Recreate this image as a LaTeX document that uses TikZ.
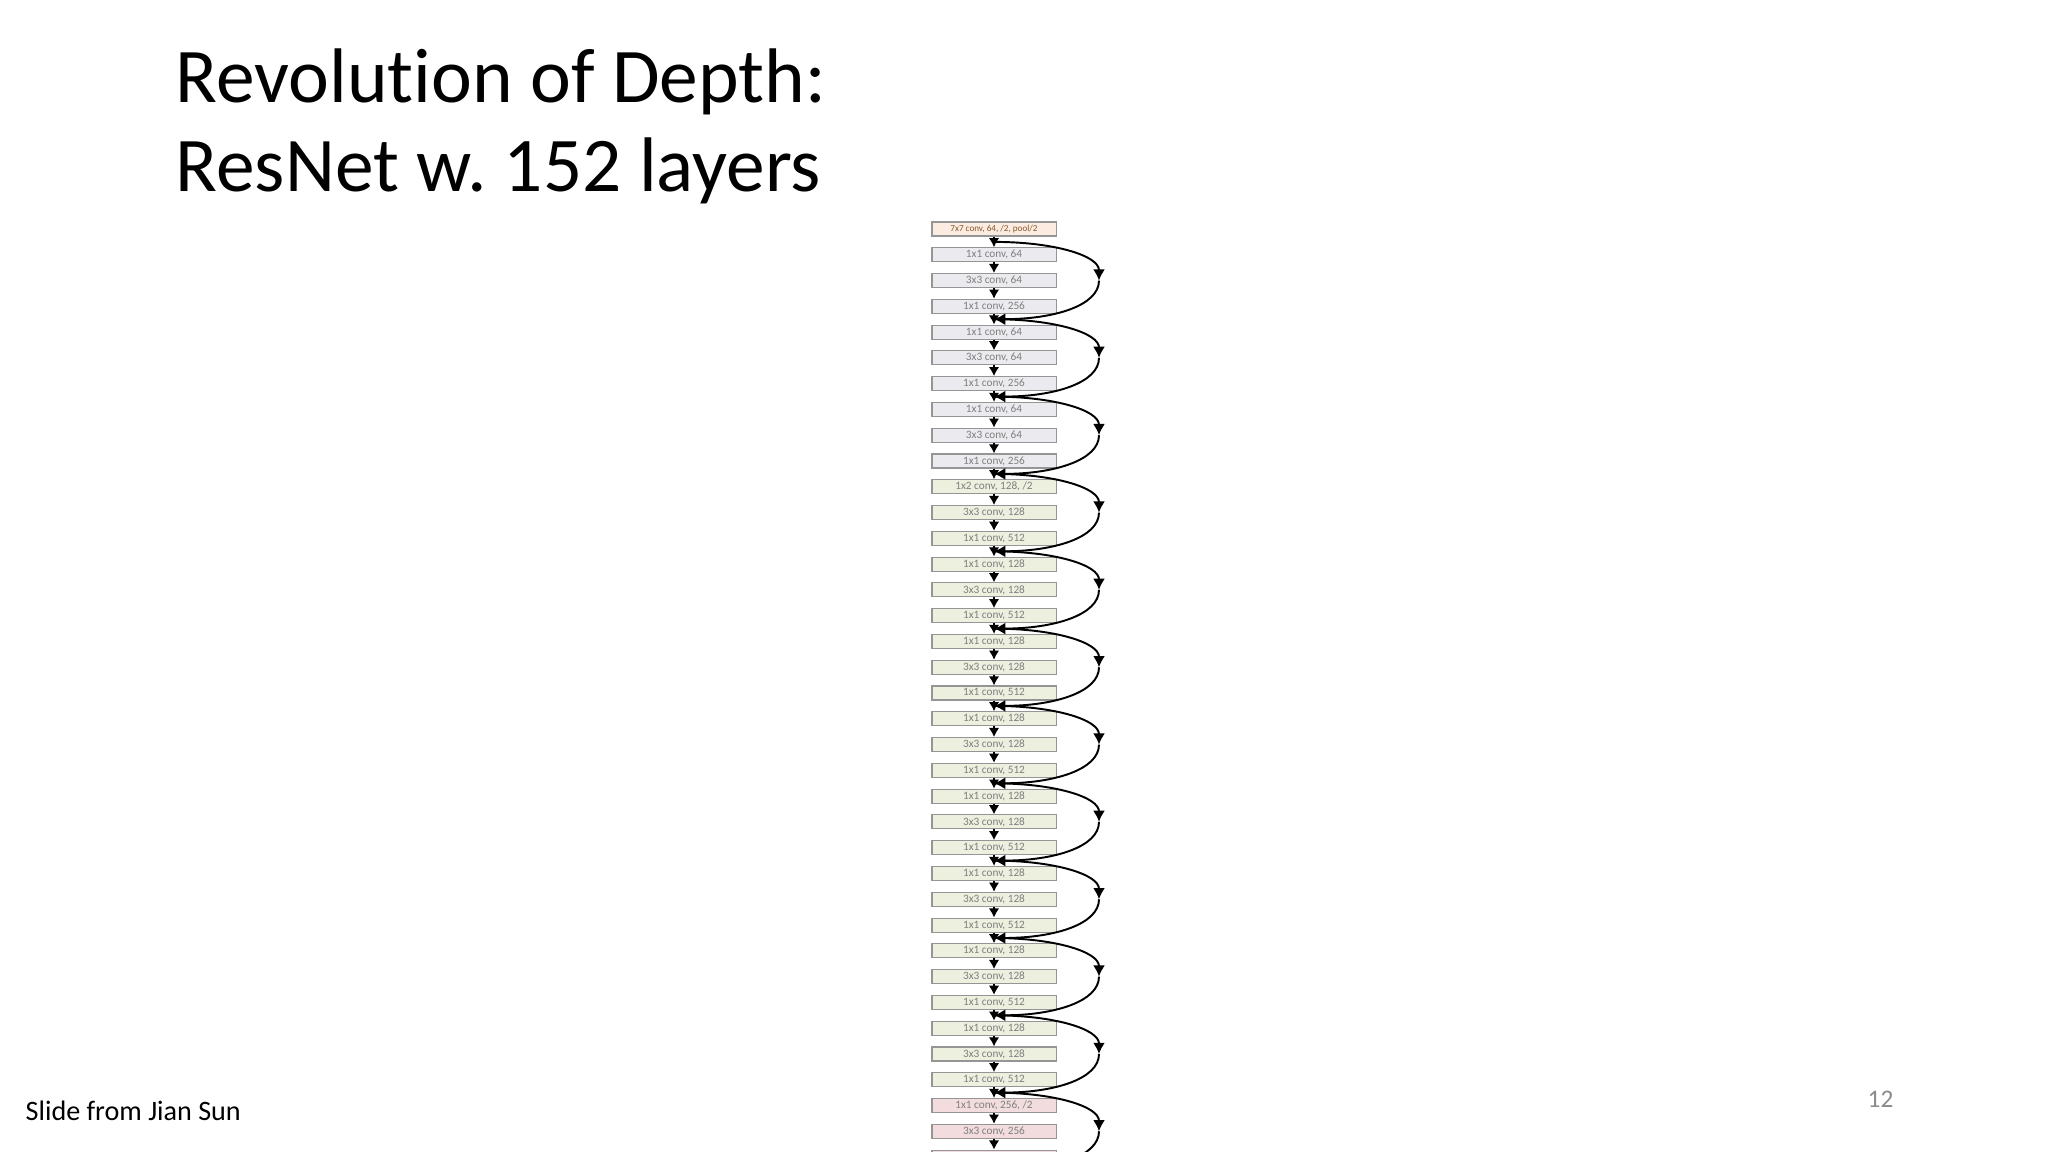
\documentclass[tikz,border=0pt]{standalone}
\usepackage{fontspec}
\setmainfont{Carlito}[Ligatures=NoCommon]
\usetikzlibrary{arrows.meta}
\definecolor{stemfill}{HTML}{FCEBE0}
\definecolor{greyfill}{HTML}{EBEBEF}
\definecolor{greenfill}{HTML}{EDEFDF}
\definecolor{pinkfill}{HTML}{F2DCDE}
\definecolor{layerline}{HTML}{959595}
\definecolor{layertext}{HTML}{7F7F7F}
\definecolor{pagenum}{HTML}{8B8B8B}
\tikzset{
  layer/.style={draw=layerline, line width=0.3pt, minimum width=1.24cm,
    minimum height=0.14cm, inner sep=0pt, text=layertext,
    font=\fontsize{3.2}{3.8}\selectfont},
  stemlayer/.style={layer, fill=stemfill, text=brown!70!black,
    font=\fontsize{2.6}{3}\selectfont},
  greylayer/.style={layer, fill=greyfill},
  greenlayer/.style={layer, fill=greenfill},
  pinklayer/.style={layer, fill=pinkfill},
  skipout/.style={out=0, in=90, out distance=0.6cm, in distance=0.25cm},
  skipin/.style={out=-90, in=0, out distance=0.25cm, in distance=0.6cm}
}
\frenchspacing
\begin{document}
\begin{tikzpicture}[x=0.01cm, y=-0.01cm]
      \useasboundingbox (0,0) rectangle (2048,1152);
      \fill[white] (0,0) rectangle (2048,1152);
      \clip (0,0) rectangle (2048,1152);
      % slide texts
      \node[anchor=base west, inner sep=0pt, font=\fontsize{22}{25}\selectfont] (title) at (175,103) {Revolution of Depth:};
      \node[anchor=base west, inner sep=0pt, font=\fontsize{22}{25}\selectfont] (subtitle) at (175,192) {ResNet w. 152 layers};
      \node[anchor=base west, inner sep=0pt, font=\fontsize{8}{9}\selectfont] (credit) at (25,1120) {Slide from Jian Sun};
      \node[anchor=base west, inner sep=0pt, text=pagenum, font=\fontsize{7.2}{8}\selectfont] (page) at (1867,1107) {12};
      % layers
      \draw
        (994,229.0) node[stemlayer] (0){7x7 conv, 64, /2, pool/2}
        (994,254.8) node[greylayer] (1){1x1 conv, 64}
        (994,280.6) node[greylayer] (2){3x3 conv, 64}
        (994,306.3) node[greylayer] (3){1x1 conv, 256}
        (994,332.1) node[greylayer] (4){1x1 conv, 64}
        (994,357.9) node[greylayer] (5){3x3 conv, 64}
        (994,383.7) node[greylayer] (6){1x1 conv, 256}
        (994,409.5) node[greylayer] (7){1x1 conv, 64}
        (994,435.2) node[greylayer] (8){3x3 conv, 64}
        (994,461.0) node[greylayer] (9){1x1 conv, 256}
        (994,486.8) node[greenlayer] (10){1x2 conv, 128, /2}
        (994,512.6) node[greenlayer] (11){3x3 conv, 128}
        (994,538.4) node[greenlayer] (12){1x1 conv, 512}
        (994,564.1) node[greenlayer] (13){1x1 conv, 128}
        (994,589.9) node[greenlayer] (14){3x3 conv, 128}
        (994,615.7) node[greenlayer] (15){1x1 conv, 512}
        (994,641.5) node[greenlayer] (16){1x1 conv, 128}
        (994,667.3) node[greenlayer] (17){3x3 conv, 128}
        (994,693.0) node[greenlayer] (18){1x1 conv, 512}
        (994,718.8) node[greenlayer] (19){1x1 conv, 128}
        (994,744.6) node[greenlayer] (20){3x3 conv, 128}
        (994,770.4) node[greenlayer] (21){1x1 conv, 512}
        (994,796.2) node[greenlayer] (22){1x1 conv, 128}
        (994,821.9) node[greenlayer] (23){3x3 conv, 128}
        (994,847.7) node[greenlayer] (24){1x1 conv, 512}
        (994,873.5) node[greenlayer] (25){1x1 conv, 128}
        (994,899.3) node[greenlayer] (26){3x3 conv, 128}
        (994,925.1) node[greenlayer] (27){1x1 conv, 512}
        (994,950.8) node[greenlayer] (28){1x1 conv, 128}
        (994,976.6) node[greenlayer] (29){3x3 conv, 128}
        (994,1002.4) node[greenlayer] (30){1x1 conv, 512}
        (994,1028.2) node[greenlayer] (31){1x1 conv, 128}
        (994,1054.0) node[greenlayer] (32){3x3 conv, 128}
        (994,1079.7) node[greenlayer] (33){1x1 conv, 512}
        (994,1105.5) node[pinklayer] (34){1x1 conv, 256, /2}
        (994,1131.3) node[pinklayer] (35){3x3 conv, 256}
        (994,1157.1) node[pinklayer] (36){};
      % shortcut joints
      \coordinate (j0) at (994,241.9);
      \coordinate (j1) at (994,319.2);
      \coordinate (j2) at (994,396.6);
      \coordinate (j3) at (994,473.9);
      \coordinate (j4) at (994,551.3);
      \coordinate (j5) at (994,628.6);
      \coordinate (j6) at (994,705.9);
      \coordinate (j7) at (994,783.3);
      \coordinate (j8) at (994,860.6);
      \coordinate (j9) at (994,938.0);
      \coordinate (j10) at (994,1015.3);
      \coordinate (j11) at (994,1092.6);
      \coordinate (j12) at (994,1170.0);
      \coordinate (m0) at (1099,280.6);
      \coordinate (m1) at (1099,357.9);
      \coordinate (m2) at (1099,435.2);
      \coordinate (m3) at (1099,512.6);
      \coordinate (m4) at (1099,589.9);
      \coordinate (m5) at (1099,667.3);
      \coordinate (m6) at (1099,744.6);
      \coordinate (m7) at (1099,821.9);
      \coordinate (m8) at (1099,899.3);
      \coordinate (m9) at (1099,976.6);
      \coordinate (m10) at (1099,1054.0);
      \coordinate (m11) at (1099,1131.3);
      \begin{scope}[-{Latex[length=2.6pt,width=3pt]}, line width=0.5pt]
        \draw (0) to (1);
        \draw (1) to (2);
        \draw (2) to (3);
        \draw (3) to (4);
        \draw (4) to (5);
        \draw (5) to (6);
        \draw (6) to (7);
        \draw (7) to (8);
        \draw (8) to (9);
        \draw (9) to (10);
        \draw (10) to (11);
        \draw (11) to (12);
        \draw (12) to (13);
        \draw (13) to (14);
        \draw (14) to (15);
        \draw (15) to (16);
        \draw (16) to (17);
        \draw (17) to (18);
        \draw (18) to (19);
        \draw (19) to (20);
        \draw (20) to (21);
        \draw (21) to (22);
        \draw (22) to (23);
        \draw (23) to (24);
        \draw (24) to (25);
        \draw (25) to (26);
        \draw (26) to (27);
        \draw (27) to (28);
        \draw (28) to (29);
        \draw (29) to (30);
        \draw (30) to (31);
        \draw (31) to (32);
        \draw (32) to (33);
        \draw (33) to (34);
        \draw (34) to (35);
        \draw (35) to (36);
      \end{scope}
      \begin{scope}[-{Latex[length=3.2pt,width=3.4pt]}, line width=0.55pt]
        \draw (j0) to[skipout] (m0);
        \draw (m0) to[skipin] (j1);
        \draw (j1) to[skipout] (m1);
        \draw (m1) to[skipin] (j2);
        \draw (j2) to[skipout] (m2);
        \draw (m2) to[skipin] (j3);
        \draw (j3) to[skipout] (m3);
        \draw (m3) to[skipin] (j4);
        \draw (j4) to[skipout] (m4);
        \draw (m4) to[skipin] (j5);
        \draw (j5) to[skipout] (m5);
        \draw (m5) to[skipin] (j6);
        \draw (j6) to[skipout] (m6);
        \draw (m6) to[skipin] (j7);
        \draw (j7) to[skipout] (m7);
        \draw (m7) to[skipin] (j8);
        \draw (j8) to[skipout] (m8);
        \draw (m8) to[skipin] (j9);
        \draw (j9) to[skipout] (m9);
        \draw (m9) to[skipin] (j10);
        \draw (j10) to[skipout] (m10);
        \draw (m10) to[skipin] (j11);
        \draw (j11) to[skipout] (m11);
        \draw (m11) to[skipin] (j12);
      \end{scope}
    \end{tikzpicture}
\end{document}
